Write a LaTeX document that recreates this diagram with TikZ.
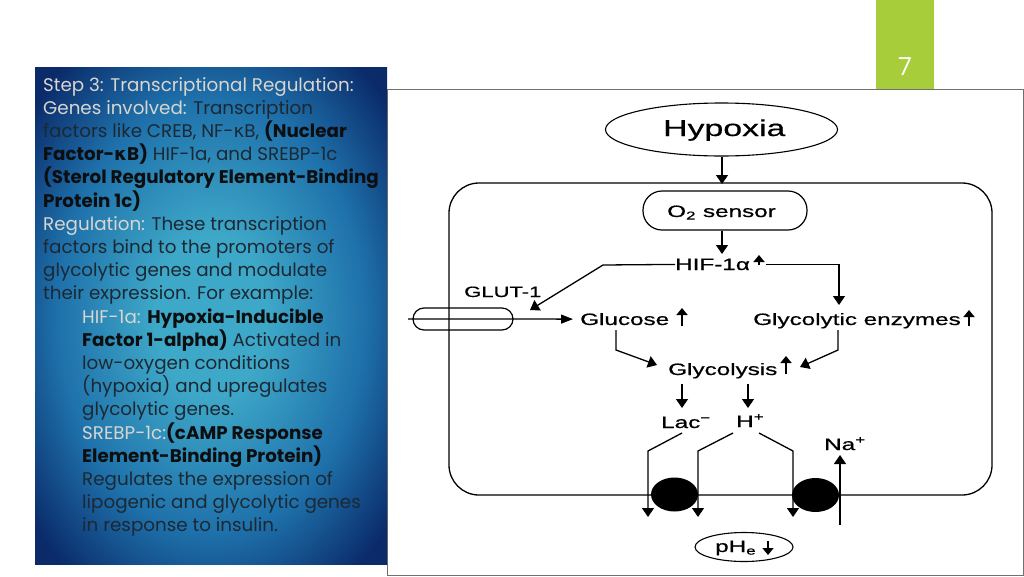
\documentclass[tikz,border=0pt]{standalone}
\usepackage{fontspec}
\usepackage{graphicx}
\setmainfont{Liberation Sans}
\newfontfamily\dfont{Liberation Sans}[FakeBold=0.5]
\newfontfamily\gothic{Poppins}
\newfontfamily\kapfont{DejaVu Sans}
\newfontfamily\tabfont{Open Sans}
\usetikzlibrary{arrows.meta,shapes.geometric,calc}

\definecolor{tabgreen}{HTML}{A7CD3A}
\definecolor{framegray}{HTML}{707070}
\definecolor{pin}{RGB}{62,168,200}
\definecolor{pmid}{RGB}{30,112,170}
\definecolor{pout}{RGB}{10,42,105}
\definecolor{regtext}{HTML}{1C2833}
\definecolor{boldtext}{HTML}{0C0E10}
\definecolor{labtext}{HTML}{D9D5CF}

\pgfdeclareradialshading{panelshade}{\pgfpoint{0bp}{0bp}}{%
  color(0bp)=(pin); color(8bp)=(pin); color(22bp)=(pmid);
  color(33bp)=(pout); color(50bp)=(pout)}

\newcommand\sx[1]{\scalebox{1.47}[1]{#1}}
\newcommand\kap{{\kapfont κ}}
\newcommand\lab[1]{{\color{labtext}#1}}
\newcommand\bd[1]{{\bfseries\color{boldtext}#1}}

\tikzset{
  dt/.style={inner sep=0pt, anchor=base west, font=\dfont\fontsize{16.5}{18}\selectfont},
  pl/.style={inner sep=0pt, anchor=base west, text=regtext,
    font=\gothic\fontsize{18.3}{20}\selectfont},
  arr/.style={line width=1.3pt, -{Triangle[length=9pt,width=12pt]}},
  arrh/.style={line width=1.3pt, -{Triangle[length=12pt,width=9pt]}},
  upa/.style={line width=1.9pt, -{Triangle[length=7pt,width=11pt]}},
  ln/.style={line width=1.3pt},
}

\begin{document}
\begin{tikzpicture}[x=1pt,y=1pt]
\useasboundingbox (0,0) rectangle (1024,-576);
\fill[white] (0,0) rectangle (1024,-576);

% page tab
\fill[tabgreen] (876,0) rectangle (934,-89);
\node[inner sep=0pt, anchor=base, text=white, font=\tabfont\fontsize{25}{25}\selectfont] (pagenum) at (905,-75) {7};

% figure frame
\draw[framegray, line width=0.9pt] (387,-89) rectangle (1023,-575);

% left text panel
\shade[shading=panelshade] (35,-67) rectangle (387,-564);

\node[pl] (t1)  at (43,-91.0)  {\lab{Step 3: Transcriptional Regulation:}};
\node[pl] (t2)  at (43,-114.2) {\lab{Genes involved:} Transcription};
\node[pl] (t3)  at (43,-137.4) {factors like CREB, NF-\kap B, \bd{(Nuclear}};
\node[pl] (t4)  at (43,-160.6) {\bd{Factor-\kap B)} HIF-1a, and SREBP-1c};
\node[pl] (t5)  at (43,-183.8) {\bd{(Sterol Regulatory Element-Binding}};
\node[pl] (t6)  at (43,-207.0) {\bd{Protein 1c)}};
\node[pl] (t7)  at (43,-230.2) {\lab{Regulation:} These transcription};
\node[pl] (t8)  at (43,-253.4) {factors bind to the promoters of};
\node[pl] (t9)  at (43,-276.6) {glycolytic genes and modulate};
\node[pl] (t10) at (43,-299.8) {their expression. For example:};
\node[pl] (t11) at (82,-323.0) {\lab{HIF-1a:} \bd{Hypoxia-Inducible}};
\node[pl] (t12) at (82,-346.2) {\bd{Factor 1-alpha)} Activated in};
\node[pl] (t13) at (82,-369.4) {low-oxygen conditions};
\node[pl] (t14) at (82,-392.6) {(hypoxia) and upregulates};
\node[pl] (t15) at (82,-415.8) {glycolytic genes.};
\node[pl] (t16) at (82,-439.0) {\lab{SREBP-1c:}\bd{(cAMP Response}};
\node[pl] (t17) at (82,-462.2) {\bd{Element-Binding Protein)}};
\node[pl] (t18) at (82,-485.4) {Regulates the expression of};
\node[pl] (t19) at (82,-508.6) {lipogenic and glycolytic genes};
\node[pl] (t20) at (82,-531.8) {in response to insulin.};

% ---------- diagram ----------
% cell
\draw[ln, rounded corners=30pt] (449,-183) rectangle (992,-495);

% hypoxia
\node[ellipse, draw, line width=1.1pt, minimum width=232pt, minimum height=53pt, inner sep=0pt] (hyp) at (721.5,-129.5) {};
\node[dt, font=\dfont\fontsize{23}{25}\selectfont] (hypt) at (663,-136) {\sx{Hypoxia}};

% O2 sensor
\node[draw, line width=1.2pt, rounded corners=19pt, minimum width=164pt, minimum height=39pt, inner sep=0pt] (o2) at (725,-210.5) {};
\node[dt] (o2t) at (667,-217) {\sx{O\textsubscript{2} sensor}};

% labels
\node[dt] (hif) at (675,-270) {\sx{HIF-1α}};
\node[dt, font=\dfont\fontsize{15}{17}\selectfont] (glutl) at (464,-297) {\sx{GLUT-1}};
\node[dt] (glu) at (580,-325) {\sx{Glucose}};
\node[dt] (enz) at (753,-325) {\sx{Glycolytic enzymes}};
\node[dt] (gly) at (668,-375) {\sx{Glycolysis}};
\node[dt] (lac) at (661,-428) {\sx{Lac\textsuperscript{−}}};
\node[dt] (hpl) at (736,-427) {\sx{H\textsuperscript{+}}};
\node[dt] (na)  at (824,-450) {\sx{Na\textsuperscript{+}}};
\node[dt] (pht) at (715,-552) {\sx{pH\textsubscript{e}}};

% GLUT-1 transporter
\node[draw, line width=1.2pt, rounded corners=11pt, minimum width=100pt, minimum height=22pt, inner sep=0pt] (glut) at (463,-319) {};

% pumps
\node[ellipse, fill=black, minimum width=47pt, minimum height=34pt, inner sep=0pt] (pump1) at (674.5,-494.5) {};
\node[ellipse, fill=black, minimum width=47pt, minimum height=34pt, inner sep=0pt] (pump2) at (815.5,-495) {};

% pHe ellipse
\node[ellipse, draw, line width=1.1pt, minimum width=98pt, minimum height=29pt, inner sep=0pt] (ph) at (744,-547) {};

% coordinates
\coordinate (celltop) at (722,-184);
\coordinate (hifin) at (722,-254);
\coordinate (hifl) at (603,-265);
\coordinate (glutend) at (530,-310);
\coordinate (enzin) at (839,-305);
\coordinate (memin) at (408,-319);
\coordinate (glus) at (616,-330);
\coordinate (glub) at (616,-350);
\coordinate (glyin1) at (657,-365);
\coordinate (enzs) at (838,-330);
\coordinate (enzb) at (838,-350);
\coordinate (glyin2) at (800,-367);
\coordinate (glyl) at (682,-384);
\coordinate (lacin) at (682,-408);
\coordinate (glyh) at (748,-384);
\coordinate (hin) at (748,-408);
\coordinate (lacs) at (682,-433);
\coordinate (lacb) at (648,-451);
\coordinate (lacout) at (648,-517);
\coordinate (hls) at (733,-433);
\coordinate (hlb) at (698,-451);
\coordinate (hlout) at (698,-517);
\coordinate (hrs) at (759,-433);
\coordinate (hrb) at (793,-451);
\coordinate (hrout) at (793,-517);
\coordinate (naout) at (840,-525);
\coordinate (nain) at (840,-455);

% connectors
\draw[arr] (hyp.south -| celltop) -- (celltop);
\draw[arr] (o2.south -| hifin) -- (hifin);
\draw[arr] (hif.west) -- (hifl) -- (glutend);
\draw[arr] ([xshift=16pt]hif.east) -| (enzin);
\draw[arrh] (memin) -- ([xshift=-7pt]glu.west);
\draw[arr] (glus) -- (glub) -- (glyin1);
\draw[arr] (enzs) -- (enzb) -- (glyin2);
\draw[arr] (glyl) -- (lacin);
\draw[arr] (glyh) -- (hin);
\draw[arr] (lacs) -- (lacb) -- (lacout);
\draw[arr] (hls) -- (hlb) -- (hlout);
\draw[arr] (hrs) -- (hrb) -- (hrout);
\draw[arr] (naout) -- (nain);

% small up/down arrows
\coordinate (ua1a) at (759,-265); \coordinate (ua1b) at (759,-255);
\coordinate (ua2a) at (682,-326); \coordinate (ua2b) at (682,-308);
\coordinate (ua3a) at (969,-326); \coordinate (ua3b) at (969,-310);
\coordinate (ua4a) at (786,-374); \coordinate (ua4b) at (786,-356);
\coordinate (da1a) at (768,-541); \coordinate (da1b) at (768,-555);
\draw[upa] (ua1a) -- (ua1b);
\draw[upa] (ua2a) -- (ua2b);
\draw[upa] (ua3a) -- (ua3b);
\draw[upa] (ua4a) -- (ua4b);
\draw[upa] (da1a) -- (da1b);
\end{tikzpicture}
\end{document}
